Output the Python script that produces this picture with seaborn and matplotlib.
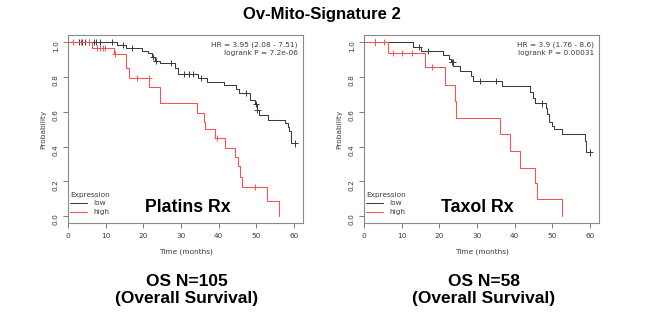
import numpy as np
import pandas as pd
import seaborn as sns
import matplotlib
matplotlib.use('Agg')
import matplotlib.pyplot as plt

sns.set_style('white')
plt.rcParams['font.family'] = ['DejaVu Sans']

# ---- Platins Rx (OS N=105): Kaplan-Meier steps
plat_low_time = [0, 13.0, 15.5, 19.6, 21.2, 22.3, 23.1, 24.5, 28.3, 29.2, 34.6, 36.8, 41.4,
                 44.5, 45.5, 48.3, 49.7, 50.2, 50.6, 53.0, 57.7, 58.3, 58.8, 59.2, 60.3]
plat_low_surv = [1.0, 0.985, 0.969, 0.950, 0.936, 0.917, 0.892, 0.879, 0.850, 0.818, 0.796, 0.773, 0.752,
                 0.731, 0.710, 0.668, 0.645, 0.610, 0.580, 0.555, 0.533, 0.510, 0.490, 0.418, 0.418]
plat_low_cens_t = [2.8, 3.7, 4.6, 5.7, 6.8, 7.5, 8.4, 11.7, 14.5, 17.0, 22.6, 23.4, 27.3,
                   30.7, 32.0, 33.2, 35.4, 47.2, 49.9, 50.3, 60.3]
plat_low_cens_s = [1, 1, 1, 1, 1, 1, 1, 1, 0.985, 0.969, 0.917, 0.892, 0.879,
                   0.818, 0.818, 0.818, 0.796, 0.710, 0.645, 0.610, 0.418]

plat_high_time = [0, 6.4, 12.1, 15.4, 16.1, 21.6, 24.3, 34.2, 36.0, 36.4, 39.05, 41.7,
                  44.35, 45.2, 45.7, 46.1, 52.9, 56.1]
plat_high_surv = [1.0, 0.969, 0.931, 0.850, 0.796, 0.740, 0.649, 0.591, 0.543, 0.499, 0.447, 0.390,
                  0.342, 0.288, 0.223, 0.169, 0.085, 0.0]
plat_high_cens_t = [1.3, 3.4, 5.7, 7.7, 8.4, 9.3, 9.9, 12.4, 18.3, 21.4, 39.5, 49.7]
plat_high_cens_s = [1, 1, 1, 0.969, 0.969, 0.969, 0.969, 0.931, 0.796, 0.796, 0.447, 0.169]

# ---- Taxol Rx (OS N=58)
tax_low_time = [0, 13.0, 15.1, 21.1, 22.5, 23.1, 23.6, 25.6, 28.4, 28.9, 36.6, 44.1, 45.0,
                45.4, 48.3, 48.6, 49.0, 49.9, 50.5, 52.6, 58.6, 59.0, 60.0]
tax_low_surv = [1.0, 0.975, 0.952, 0.929, 0.904, 0.885, 0.865, 0.836, 0.807, 0.779, 0.746, 0.712, 0.680,
                0.648, 0.621, 0.587, 0.544, 0.519, 0.500, 0.470, 0.433, 0.366, 0.366]
tax_low_cens_t = [3.0, 14.5, 16.9, 23.3, 23.5, 30.9, 35.1, 47.2, 60.0]
tax_low_cens_s = [1.0, 0.975, 0.952, 0.885, 0.885, 0.779, 0.779, 0.648, 0.366]

tax_high_time = [0, 6.3, 16.1, 21.6, 24.2, 24.5, 36.2, 38.8, 41.5, 45.3, 45.9, 52.5]
tax_high_surv = [1.0, 0.938, 0.856, 0.756, 0.660, 0.567, 0.475, 0.375, 0.279, 0.190, 0.100, 0.0]
tax_high_cens_t = [3.0, 5.4, 7.7, 10.1, 12.7, 18.0]
tax_high_cens_s = [1, 1, 0.938, 0.938, 0.938, 0.856]

groups = ['low', 'high']
colors = {'low': '#3a3a3a', 'high': '#ff5050'}
x_ticks = [0, 10, 20, 30, 40, 50, 60]
y_ticks = [0.0, 0.2, 0.4, 0.6, 0.8, 1.0]

panels = [
    dict(name='Platins Rx', hr='HR = 3.95 (2.08 - 7.51)', p='logrank P = 7.2e-06',
         n='OS N=105', low=(plat_low_time, plat_low_surv, plat_low_cens_t, plat_low_cens_s),
         high=(plat_high_time, plat_high_surv, plat_high_cens_t, plat_high_cens_s)),
    dict(name='Taxol Rx', hr='HR = 3.9 (1.76 - 8.6)', p='logrank P = 0.00031',
         n='OS N=58', low=(tax_low_time, tax_low_surv, tax_low_cens_t, tax_low_cens_s),
         high=(tax_high_time, tax_high_surv, tax_high_cens_t, tax_high_cens_s)),
]

W, H = 650, 315
fig = plt.figure(figsize=(6.5, 3.15), dpi=100)
small = 5.3
grey = '#3c3c3c'
bold = ['Liberation Sans', 'DejaVu Sans']

for i, pan in enumerate(panels):
    left_px = [68, 364][i]
    ax = fig.add_axes([left_px / W, 1 - 223 / H, 235 / W, 188 / H])

    curves = pd.concat([pd.DataFrame({'time': pan[g][0], 'surv': pan[g][1], 'Expression': g})
                        for g in groups], ignore_index=True)
    cens = pd.concat([pd.DataFrame({'time': pan[g][2], 'surv': pan[g][3], 'Expression': g})
                      for g in groups], ignore_index=True)

    sns.lineplot(data=curves, x='time', y='surv', hue='Expression', hue_order=groups,
                 palette=colors, estimator=None, sort=False, drawstyle='steps-post',
                 linewidth=0.75, ax=ax)
    sns.scatterplot(data=cens, x='time', y='surv', hue='Expression', hue_order=groups,
                    palette=colors, marker='+', s=20, linewidth=0.7, legend=False, ax=ax)

    ax.set_xlim(0, 62.4)
    ax.set_ylim(-0.04, 1.042)
    ax.set_xticks(x_ticks)
    ax.set_yticks(y_ticks)
    ax.set_yticklabels([f'{v:.1f}' for v in y_ticks])
    ax.tick_params(bottom=True, left=True, length=3.6, width=0.6, color='#666666',
                   labelsize=small, labelcolor=grey, pad=3.5)
    ax.tick_params(axis='y', labelrotation=90, pad=3.0)
    for sp in ax.spines.values():
        sp.set_color('#8a8a8a')
        sp.set_linewidth(0.8)
    ax.set_xlabel('Time (months)', fontsize=small, color=grey, labelpad=7)
    ax.set_ylabel('Probability', fontsize=small, color=grey, labelpad=5)

    ax.text(0.978, 0.948, pan['hr'], transform=ax.transAxes, ha='right', va='center',
            fontsize=small, color=grey)
    ax.text(0.978, 0.905, pan['p'], transform=ax.transAxes, ha='right', va='center',
            fontsize=small, color=grey)

    sns.move_legend(ax, 'lower left', bbox_to_anchor=(0.0, 0.03), frameon=False,
                    fontsize=small, title_fontsize=small, handlelength=2.3,
                    handletextpad=0.8, labelspacing=0.35, borderpad=0.3,
                    borderaxespad=0.0)
    leg = ax.get_legend()
    leg._legend_box.align = 'left'
    for t in leg.get_texts():
        t.set_color(grey)
    leg.get_title().set_color(grey)
    for ln in leg.get_lines():
        ln.set_linewidth(0.75)

    cx = [188, 477][i]
    fig.text(cx / W, 1 - 211.7 / H, pan['name'], ha='center', va='baseline',
             fontsize=12.8, fontweight='bold', family=bold, color='black')
    ox = [187, 484][i]
    fig.text(ox / W, 1 - 286 / H, pan['n'], ha='center', va='baseline',
             fontsize=12.5, fontweight='bold', family=bold, color='black')
    fig.text(ox / W, 1 - 302.5 / H, '(Overall Survival)', ha='center', va='baseline',
             fontsize=12.5, fontweight='bold', family=bold, color='black')

fig.text(322 / W, 1 - 19 / H, 'Ov-Mito-Signature 2', ha='center', va='baseline',
         fontsize=12, fontweight='bold', family=bold, color='black')

fig.savefig('out.png', dpi=100)
